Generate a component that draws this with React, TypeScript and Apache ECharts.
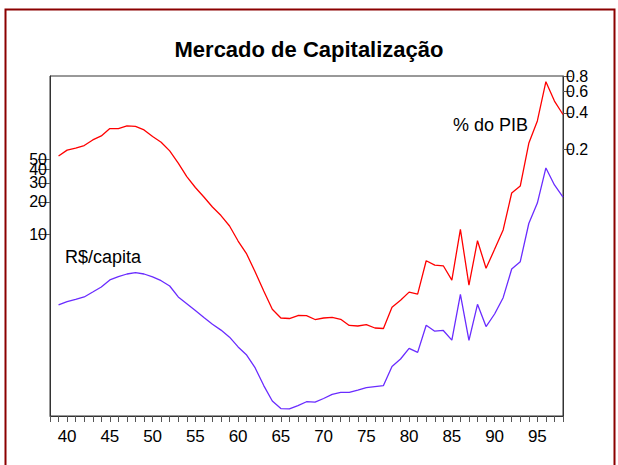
import React, { useEffect, useRef } from "react";
import * as echarts from "echarts";

// Years 1939..1998 (two-digit labels on the axis)
const years: number[] = [
  39, 40, 41, 42, 43, 44, 45, 46, 47, 48, 49, 50, 51, 52, 53, 54, 55, 56, 57, 58,
  59, 60, 61, 62, 63, 64, 65, 66, 67, 68, 69, 70, 71, 72, 73, 74, 75, 76, 77, 78,
  79, 80, 81, 82, 83, 84, 85, 86, 87, 88, 89, 90, 91, 92, 93, 94, 95, 96, 97, 98,
];

// R$/capita (left log axis) – blue
const perCapita: number[] = [
  2.21, 2.37, 2.49, 2.62, 2.91, 3.24, 3.77, 4.04, 4.28, 4.4, 4.28, 4.02, 3.71, 3.31, 2.62, 2.27, 1.96, 1.69, 1.46, 1.29,
  1.11, 0.9, 0.757, 0.574, 0.394, 0.283, 0.241, 0.239, 0.257, 0.279, 0.277, 0.299, 0.327, 0.341, 0.341, 0.358, 0.377, 0.386, 0.394, 0.592,
  0.695, 0.874, 0.802, 1.43, 1.26, 1.28, 1.04, 2.77, 1.037, 2.24, 1.39, 1.82, 2.58, 4.76, 5.57, 12.6, 19.5, 41.3, 28.7, 22.2,
];

// % do PIB (right log axis) – red
const pctPib: number[] = [
  0.176, 0.197, 0.205, 0.215, 0.239, 0.258, 0.297, 0.296, 0.312, 0.309, 0.289, 0.255, 0.229, 0.194, 0.154, 0.119, 0.0967, 0.0807, 0.0667, 0.0567,
  0.0465, 0.0349, 0.0273, 0.0194, 0.0135, 0.00952, 0.00807, 0.00799, 0.00846, 0.00843, 0.00784, 0.00807, 0.00818, 0.00787, 0.007, 0.00693, 0.0071, 0.00667, 0.00661, 0.00989,
  0.0113, 0.0132, 0.0127, 0.024, 0.0221, 0.0218, 0.0166, 0.0436, 0.0151, 0.0351, 0.0208, 0.0298, 0.0431, 0.0871, 0.0994, 0.224, 0.343, 0.724, 0.501, 0.388,
];

// tick labels (split in two groups so the crowded ones all stay visible)
const leftTicksA: number[] = [10, 20, 30, 50];
const leftTicksB: number[] = [40];
const rightTicksA: number[] = [0.2, 0.4, 0.8];
const rightTicksB: number[] = [0.6];

const LEFT_MIN = 0.2056;
const LEFT_MAX = 295;
const RIGHT_MIN = 0.00125;
const RIGHT_MAX = 0.807;

const FONT = "Liberation Sans, Arial, sans-serif";

function makeYAxis(
  side: "left" | "right",
  min: number,
  max: number,
  ticks: number[],
  showLine: boolean,
  tickLen: number,
  fontSize: number,
  fmt: (v: number) => string
) {
  return {
    type: "log",
    logBase: 10,
    min,
    max,
    position: side,
    splitLine: { show: false },
    axisLine: { show: showLine, lineStyle: { color: "#333" } },
    axisTick: { show: true, length: tickLen, customValues: ticks, lineStyle: { color: "#555" } },
    axisLabel: {
      customValues: ticks,
      margin: 3,
      fontSize,
      color: "#000",
      fontFamily: FONT,
      hideOverlap: false,
      formatter: fmt,
    },
  };
}

export default function App() {
  const ref = useRef<HTMLDivElement>(null);

  useEffect(() => {
    if (!ref.current) return;
    const chart = echarts.init(ref.current, null, { renderer: "svg" });
    const blueData = years.map((y, i) => [y, perCapita[i]]);
    const redData = years.map((y, i) => [y, pctPib[i]]);
    const intFmt = (v: number) => String(Math.round(v));
    const decFmt = (v: number) => v.toFixed(1);

    chart.setOption({
      animation: false,
      backgroundColor: "#ffffff",
      textStyle: { fontFamily: FONT },
      title: {
        text: "Mercado de Capitalização",
        left: "center",
        top: 33,
        textStyle: { fontFamily: FONT, fontSize: 22, fontWeight: "bold", color: "#000" },
      },
      grid: {
        left: 50,
        right: 55,
        top: 76,
        bottom: 49,
        show: true,
        borderColor: "#333",
        borderWidth: 1,
        backgroundColor: "transparent",
      },
      xAxis: {
        type: "value",
        min: 38,
        max: 98,
        interval: 1,
        splitLine: { show: false },
        axisLine: { show: true, lineStyle: { color: "#333", width: 1 } },
        axisTick: { show: true, length: 6, lineStyle: { color: "#555" } },
        axisLabel: {
          margin: 12,
          fontSize: 17,
          color: "#000",
          fontFamily: FONT,
          hideOverlap: false,
          formatter: (v: number) => (v % 5 === 0 ? String(v) : ""),
        },
      },
      yAxis: [
        makeYAxis("left", LEFT_MIN, LEFT_MAX, leftTicksA, true, 12, 16, intFmt),
        makeYAxis("right", RIGHT_MIN, RIGHT_MAX, rightTicksA, true, 9, 16, decFmt),
        makeYAxis("left", LEFT_MIN, LEFT_MAX, leftTicksB, false, 12, 16, intFmt),
        makeYAxis("right", RIGHT_MIN, RIGHT_MAX, rightTicksB, false, 9, 16, decFmt),
      ],
      series: [
        {
          name: "R$/capita",
          type: "line",
          yAxisIndex: 0,
          data: blueData,
          showSymbol: false,
          symbol: "none",
          lineStyle: { color: "#6a2cff", width: 1.3 },
        },
        {
          name: "% do PIB",
          type: "line",
          yAxisIndex: 1,
          data: redData,
          showSymbol: false,
          symbol: "none",
          lineStyle: { color: "#ff0000", width: 1.3 },
        },
      ],
      graphic: [
        {
          type: "rect",
          silent: true,
          shape: { x: 5.5, y: 9.5, width: 609, height: 470 },
          style: { fill: "none", stroke: "#8b0000", lineWidth: 2 },
        },
        {
          type: "text",
          x: 65,
          y: 257,
          style: {
            text: "R$/capita",
            fontSize: 18,
            fontFamily: FONT,
            fill: "#000",
            textVerticalAlign: "middle",
            verticalAlign: "middle",
          },
        },
        {
          type: "text",
          x: 528,
          y: 125,
          style: {
            text: "% do PIB",
            fontSize: 18,
            fontFamily: FONT,
            fill: "#000",
            align: "right",
            textAlign: "right",
            verticalAlign: "middle",
            textVerticalAlign: "middle",
          },
        },
      ],
    });

    return () => chart.dispose();
  }, []);

  return (
    <div
      ref={ref}
      style={{ position: "fixed", left: 0, top: 0, width: 618, height: 465, background: "#fff" }}
    />
  );
}
